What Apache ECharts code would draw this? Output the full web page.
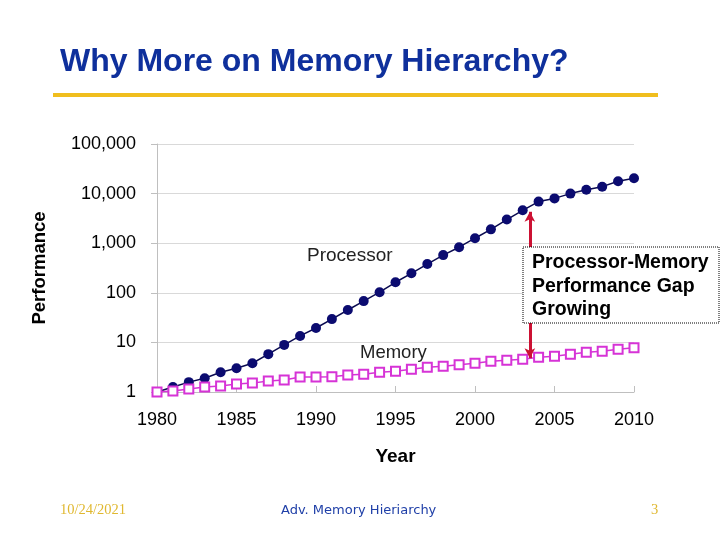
<!DOCTYPE html>
<html>
<head>
<meta charset="utf-8">
<script src="https://cdn.jsdelivr.net/npm/echarts@6/dist/echarts.min.js"></script>
<style>
html,body{margin:0;padding:0;background:#fff;}
#c{width:720px;height:540px;}
</style>
</head>
<body>
<div id="c"></div>
<script>
const years = [1980,1981,1982,1983,1984,1985,1986,1987,1988,1989,1990,1991,1992,1993,1994,1995,1996,1997,1998,1999,2000,2001,2002,2003,2004,2005,2006,2007,2008,2009,2010];
const processor = [1,1.26,1.58,1.9,2.5,3.0,3.8,5.8,8.9,13.5,19.5,29.5,45,68,103,163,247,380,575,830,1260,1900,3000,4600,6900,8000,10000,12000,13800,17800,20400];
const memory = [1.0,1.05,1.15,1.26,1.32,1.45,1.51,1.66,1.74,2.0,2.0,2.04,2.19,2.29,2.51,2.63,2.88,3.16,3.31,3.55,3.80,4.17,4.37,4.57,5.01,5.25,5.75,6.31,6.61,7.24,7.76];
const yTicks = [1,10,100,1000,10000,100000];
const xTicks = [1980,1985,1990,1995,2000,2005,2010];
const gapArrow = {x: 2003.45, top: 4300, bottom: 4.8};

const chart = echarts.init(document.getElementById('c'), null, {renderer:'canvas'});
const font = 'Liberation Sans, Arial, sans-serif';
chart.setOption({
  animation:false,
  backgroundColor:'#fff',
  grid:{left:157,right:86,top:144,bottom:148},
  xAxis:{
    type:'value', min:xTicks[0], max:xTicks[xTicks.length-1], interval:5,
    name:'Year', nameLocation:'middle', nameGap:55,
    nameTextStyle:{fontFamily:font,fontSize:19,fontWeight:'bold',color:'#000'},
    axisLine:{lineStyle:{color:'#bfbfbf',width:1}},
    axisTick:{show:true,inside:true,length:6,lineStyle:{color:'#bfbfbf'}},
    axisLabel:{fontFamily:font,fontSize:18,color:'#000',margin:19,formatter:v=>String(v)},
    splitLine:{show:false}
  },
  yAxis:{
    type:'log', logBase:10, min:yTicks[0], max:yTicks[yTicks.length-1],
    name:'Performance', nameLocation:'middle', nameGap:108, nameRotate:90,
    nameTextStyle:{fontFamily:font,fontSize:18.5,fontWeight:'bold',color:'#000'},
    axisLine:{show:true,lineStyle:{color:'#bfbfbf',width:1}},
    axisTick:{show:true,length:6,lineStyle:{color:'#bfbfbf'}},
    axisLabel:{fontFamily:font,fontSize:18,color:'#000',margin:21,formatter:v=>Number(v).toLocaleString('en-US')},
    splitLine:{show:true,lineStyle:{color:'#d9d9d9',width:1}},
    minorTick:{show:false}
  },
  series:[
    {
      name:'Processor', type:'line', z:2,
      data: years.map((y,i)=>[y,processor[i]]),
      symbol:'circle', symbolSize:10,
      itemStyle:{color:'#0b0b70'},
      lineStyle:{color:'#0b0b50',width:1.5},
      markLine:{
        silent:true, symbol:['arrow','arrow'], symbolSize:[8,10],
        label:{show:false},
        lineStyle:{color:'#cc1133',width:3,type:'solid'},
        data:[[{coord:[gapArrow.x,gapArrow.top]},{coord:[gapArrow.x,gapArrow.bottom]}]]
      }
    },
    {
      name:'Memory', type:'line', z:3,
      data: years.map((y,i)=>[y,memory[i]]),
      symbol:'rect', symbolSize:9,
      itemStyle:{color:'#fff',borderColor:'#d633d6',borderWidth:2},
      lineStyle:{color:'#d633d6',width:1.5}
    }
  ],
  graphic:[
    {type:'text',left:60,top:46,style:{text:'Why More on Memory Hierarchy?',fontFamily:font,fontSize:32,fontWeight:'bold',fill:'#0f309c'}},
    {type:'rect',shape:{x:53,y:93,width:605,height:4},style:{fill:'#f0be1e'}},
    {type:'text',left:307,top:246,style:{text:'Processor',fontFamily:font,fontSize:19,fill:'#222'}},
    {type:'text',left:360,top:343,style:{text:'Memory',fontFamily:font,fontSize:18.5,fill:'#222'}},
    {type:'rect',z:10,shape:{x:523,y:247,width:196,height:76},style:{fill:'#fff',stroke:'#000',lineWidth:1,lineDash:[1,1]}},
    {type:'text',z:11,left:532,top:251,style:{text:'Processor-Memory\nPerformance Gap\nGrowing',fontFamily:font,fontSize:19.5,fontWeight:'bold',lineHeight:23.5,fill:'#000'}},
    {type:'text',left:60,top:503,style:{text:'10/24/2021',fontFamily:'Liberation Serif, Times New Roman, serif',fontSize:14.5,fill:'#e0b830'}},
    {type:'text',left:281,top:504,style:{text:'Adv. Memory Hieriarchy',fontFamily:'DejaVu Sans, sans-serif',fontSize:13,fill:'#2040a8'}},
    {type:'text',left:651,top:503,style:{text:'3',fontFamily:'Liberation Serif, Times New Roman, serif',fontSize:14.5,fill:'#e0b830'}}
  ]
});
</script>
</body>
</html>
